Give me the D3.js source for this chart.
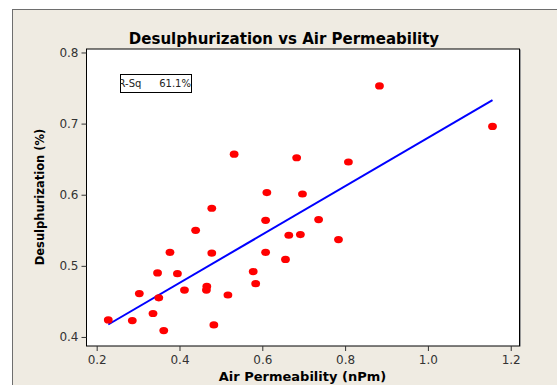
<!DOCTYPE html>
<html>
<head>
<meta charset="utf-8">
<script src="https://cdn.jsdelivr.net/npm/d3@7"></script>
<style>
  body { margin: 0; background: #fff; }
  svg { display: block; font-family: "DejaVu Sans", Verdana, sans-serif; }
</style>
</head>
<body>
<svg width="557" height="385"></svg>
<script>
const width = 557;
const height = 385;

// air permeability (nPm) vs desulphurization (%)
const permeability = [
    0.228, 0.286, 0.303, 0.336, 0.362, 0.350, 0.347, 0.377, 0.395, 0.412,
    0.439, 0.465, 0.466, 0.478, 0.478, 0.483, 0.517, 0.532, 0.578, 0.584,
    0.608, 0.608, 0.611, 0.656, 0.664, 0.683, 0.697, 0.692, 0.736, 0.784,
    0.808, 0.883, 1.156,
];
const desulph = [
    0.424, 0.423, 0.461, 0.433, 0.409, 0.455, 0.490, 0.519, 0.489, 0.466,
    0.550, 0.466, 0.471, 0.581, 0.518, 0.417, 0.459, 0.657, 0.492, 0.475,
    0.519, 0.564, 0.603, 0.509, 0.543, 0.652, 0.601, 0.544, 0.565, 0.537,
    0.646, 0.753, 0.696,
];
// fitted line shown on the chart
const fitIntercept = 0.340;
const fitSlope = 0.340;
const xTicks = [0.2, 0.4, 0.6, 0.8, 1.0, 1.2];
const yTicks = [0.4, 0.5, 0.6, 0.7, 0.8];
const xDomain = [0.1742, 1.2200];
const yDomain = [0.3880, 0.8056];
const rsqText = ["R-Sq", "61.1%"];

const plot = { left: 86, right: 519, top: 48.5, bottom: 345.5 };

const svg = d3.select("svg");

// outer frame
svg.append("rect")
    .attr("x", 12.5)
    .attr("y", 9.5)
    .attr("width", width + 10)
    .attr("height", height + 10)
    .attr("fill", "#efebe2")
    .attr("stroke", "#6e6e6e");

const x = d3.scaleLinear().domain(xDomain).range([plot.left, plot.right]);
const y = d3.scaleLinear().domain(yDomain).range([plot.bottom, plot.top]);

// plot area with a little shadow on the right
svg.append("line")
    .attr("x1", plot.right + 1.5).attr("x2", plot.right + 1.5)
    .attr("y1", plot.top + 1).attr("y2", plot.bottom + 1)
    .attr("stroke", "#999");
svg.append("rect")
    .attr("x", plot.left + 0.5)
    .attr("y", plot.top + 0.5)
    .attr("width", plot.right - plot.left)
    .attr("height", plot.bottom - plot.top)
    .attr("fill", "#fff")
    .attr("stroke", "#000");

const xAxis = d3.axisBottom(x).tickValues(xTicks).tickFormat(d3.format(".1f"))
    .tickSizeOuter(0).tickSizeInner(5).tickPadding(4);
const yAxis = d3.axisLeft(y).tickValues(yTicks).tickFormat(d3.format(".1f"))
    .tickSizeOuter(0).tickSizeInner(5).tickPadding(3);

svg.append("g")
    .attr("transform", `translate(0,${plot.bottom + 0.5})`)
    .call(xAxis)
    .call((g) => g.select(".domain").remove())
    .call((g) => g.selectAll(".tick line").attr("stroke", "#333"))
    .call((g) => g.selectAll(".tick text")
        .attr("font-size", 12).attr("font-family", "DejaVu Sans").attr("fill", "#333"));

svg.append("g")
    .attr("transform", `translate(${plot.left + 0.5},0)`)
    .call(yAxis)
    .call((g) => g.select(".domain").remove())
    .call((g) => g.selectAll(".tick line").attr("stroke", "#333"))
    .call((g) => g.selectAll(".tick text")
        .attr("font-size", 12).attr("font-family", "DejaVu Sans").attr("fill", "#333"));

// regression line
const xs = d3.extent(permeability);
svg.append("path")
    .datum(xs.map((v) => [v, fitIntercept + fitSlope * v]))
    .attr("d", d3.line().x((d) => x(d[0])).y((d) => y(d[1])))
    .attr("fill", "none")
    .attr("stroke", "#0000ff")
    .attr("stroke-width", 2);

// points
svg.append("g")
    .selectAll("ellipse")
    .data(d3.zip(permeability, desulph))
    .join("ellipse")
    .attr("cx", (d) => x(d[0]))
    .attr("cy", (d) => y(d[1]))
    .attr("rx", 4.4)
    .attr("ry", 3.6)
    .attr("fill", "#ff0000");

// R-Sq box, the first letter is clipped by the box edge
const box = { x: 120.5, y: 74.5, w: 71, h: 18 };
svg.append("clipPath").attr("id", "rsq-clip")
    .append("rect")
    .attr("x", box.x).attr("y", box.y).attr("width", box.w).attr("height", box.h);
svg.append("rect")
    .attr("x", box.x).attr("y", box.y).attr("width", box.w).attr("height", box.h)
    .attr("fill", "#fff").attr("stroke", "#000");
const rsq = svg.append("g").attr("clip-path", "url(#rsq-clip)")
    .attr("font-size", 10).attr("fill", "#222");
rsq.append("text").attr("x", 118.5).attr("y", 87).text(rsqText[0]);
rsq.append("text").attr("x", 191).attr("y", 87).attr("text-anchor", "end").text(rsqText[1]);

// titles
svg.append("text")
    .attr("x", 284)
    .attr("y", 44)
    .attr("text-anchor", "middle")
    .attr("font-size", 15)
    .attr("font-weight", "bold")
    .text("Desulphurization vs Air Permeability");

svg.append("text")
    .attr("x", (plot.left + plot.right) / 2)
    .attr("y", 381)
    .attr("text-anchor", "middle")
    .attr("font-size", 13)
    .attr("font-weight", "bold")
    .text("Air Permeability (nPm)");

svg.append("text")
    .attr("transform", `translate(44,${(plot.top + plot.bottom) / 2}) rotate(-90)`)
    .attr("text-anchor", "middle")
    .attr("font-size", 11.5)
    .attr("font-weight", "bold")
    .text("Desulphurization (%)");
</script>
</body>
</html>
